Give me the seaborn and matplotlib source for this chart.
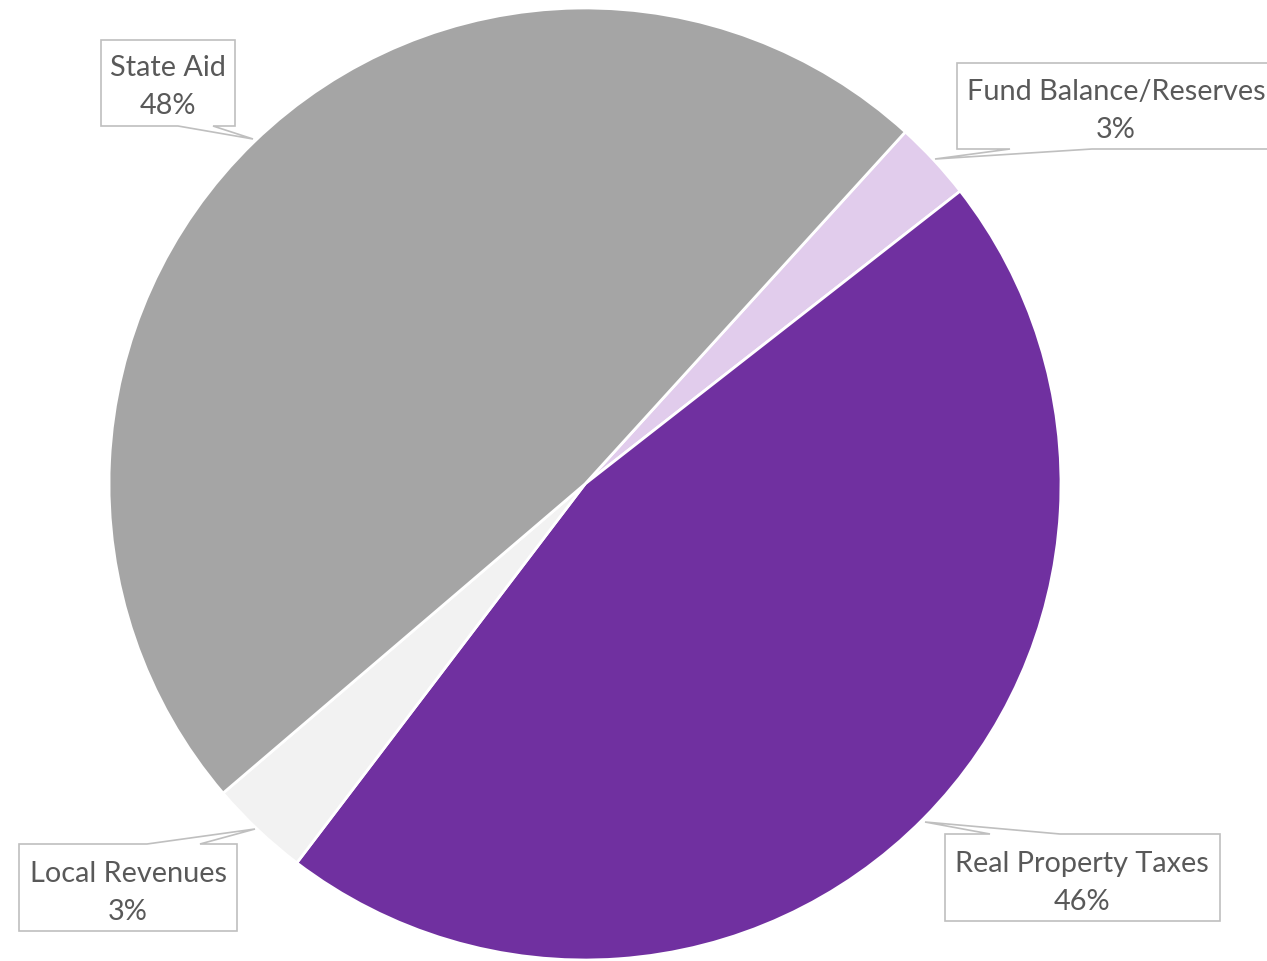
import matplotlib.pyplot as plt
import seaborn as sns
from matplotlib.patches import Polygon

# data (clockwise from the Fund Balance slice)
labels = ["Fund Balance/Reserves", "Real Property Taxes", "Local Revenues", "State Aid"]
shares = [2.7, 45.9, 3.4, 48.0]
pct_text = ["3%", "46%", "3%", "48%"]
colors = ["#E1CCEC", "#7030A0", "#F2F2F2", "#A5A5A5"]

sns.set_theme(style="white")
plt.rcParams["font.family"] = ["Lato", "DejaVu Sans"]

W, H = 1267, 962
fig = plt.figure(figsize=(W / 100, H / 100), dpi=100)
ax = fig.add_axes([0, 0, 1, 1])

ax.pie(shares, colors=colors, startangle=47.7, counterclock=False,
       center=(585, H - 485), radius=476,
       wedgeprops=dict(edgecolor="white", linewidth=2))

ax.set_xlim(0, W)
ax.set_ylim(0, H)
ax.set_aspect("equal")
ax.axis("off")

# callout boxes: (left, top, right, bottom), pointer base x0, x1 on edge, tip
callouts = {
    "State Aid": dict(box=(101, 41, 235, 127), base=(178, 213), side="bottom", tip=(253, 140),
                      ty=(68, 106), tx=168),
    "Fund Balance/Reserves": dict(box=(957, 64, 1280, 150), base=(1010, 1092), side="bottom",
                                  tip=(935, 160), ty=(92, 130), tx=1116),
    "Local Revenues": dict(box=(19, 845, 237, 932), base=(147, 200), side="top", tip=(255, 830),
                           ty=(874, 912), tx=128),
    "Real Property Taxes": dict(box=(945, 835, 1220, 922), base=(990, 1060), side="top",
                                tip=(925, 823), ty=(864, 902), tx=1082),
}

for lab, pct in zip(labels, pct_text):
    c = callouts[lab]
    l, t, r, b = c["box"]
    x0, x1 = c["base"]
    if c["side"] == "bottom":
        pts = [(l, t), (r, t), (r, b), (x1, b), c["tip"], (x0, b), (l, b)]
    else:
        pts = [(l, b), (l, t), (x0, t), c["tip"], (x1, t), (r, t), (r, b)]
    pts = [(x, H - y) for x, y in pts]
    ax.add_patch(Polygon(pts, closed=True, facecolor="white", edgecolor="#BFBFBF",
                         linewidth=1.2, zorder=5))
    ax.text(c["tx"], H - c["ty"][0], lab, ha="center", va="center",
            fontsize=20.8, color="#595959", zorder=6)
    ax.text(c["tx"], H - c["ty"][1], pct, ha="center", va="center",
            fontsize=20.8, color="#595959", zorder=6)

fig.savefig("out.png", dpi=100, facecolor="white")
